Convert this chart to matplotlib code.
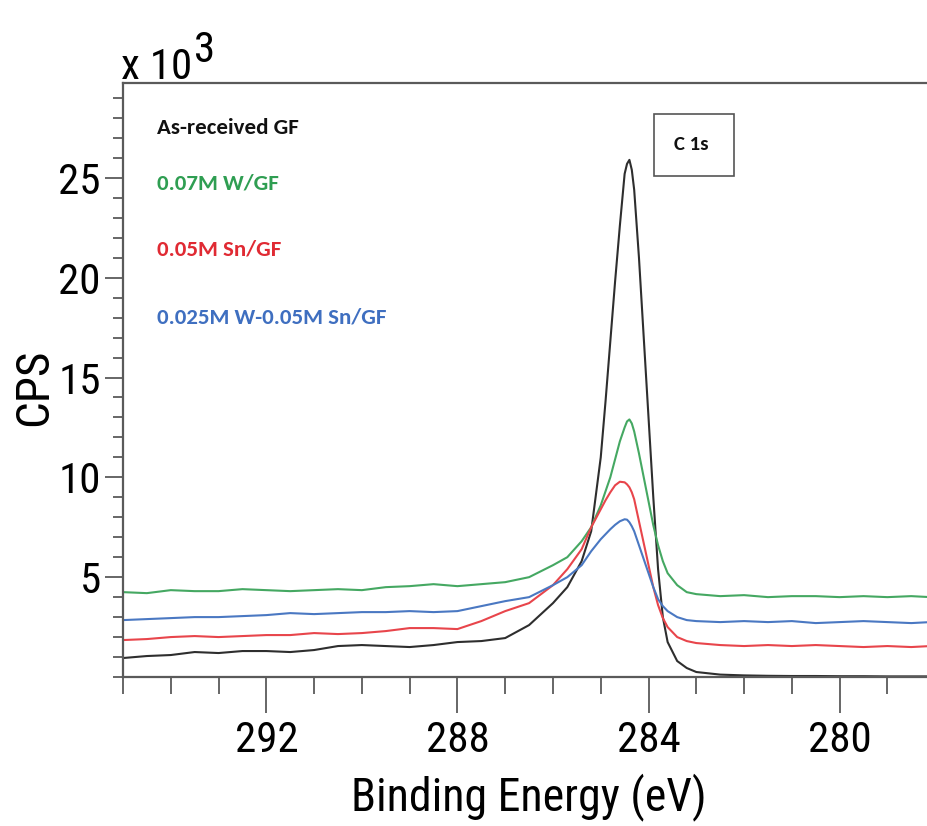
import matplotlib
matplotlib.use("Agg")
import matplotlib.pyplot as plt
from matplotlib import font_manager
from matplotlib.ticker import MultipleLocator, FixedLocator
from matplotlib.patches import Rectangle

# ---------------- data (CPS in units of 10^3) ----------------
energy_ev = [295.0, 294.5, 294.0, 293.5, 293.0, 292.5, 292.0, 291.5, 291.0, 290.5,
             290.0, 289.5, 289.0, 288.5, 288.0, 287.5, 287.0, 286.5, 286.0, 285.7,
             285.4, 285.2,
             285.0, 284.9, 284.8, 284.7, 284.6, 284.5, 284.45, 284.4, 284.35, 284.3,
             284.2, 284.1, 284.0, 283.9, 283.8, 283.7, 283.6,
             283.4, 283.2, 283.0,
             282.5, 282.0, 281.5, 281.0, 280.5, 280.0, 279.5, 279.0, 278.5, 278.1]

as_received_gf = [0.95, 1.05, 1.10, 1.25, 1.20, 1.30, 1.30, 1.25, 1.35, 1.55,
                  1.60, 1.55, 1.50, 1.60, 1.75, 1.80, 1.95, 2.60, 3.70, 4.50,
                  5.80, 7.30,
                  11.0, 13.8, 16.8, 19.8, 22.6, 25.2, 25.7, 25.9, 25.4, 24.4,
                  21.0, 17.0, 13.0, 9.00, 5.40, 3.00, 1.75,
                  0.80, 0.45, 0.25,
                  0.12, 0.08, 0.06, 0.05, 0.05, 0.04, 0.04, 0.03, 0.03, 0.03]

w_gf = [4.25, 4.20, 4.35, 4.30, 4.30, 4.40, 4.35, 4.30, 4.35, 4.40,
        4.35, 4.50, 4.55, 4.65, 4.55, 4.65, 4.75, 5.00, 5.60, 6.00,
        6.80, 7.50,
        8.60, 9.30, 10.0, 10.9, 11.8, 12.5, 12.8, 12.9, 12.7, 12.3,
        11.2, 10.0, 8.80, 7.60, 6.60, 5.80, 5.20,
        4.60, 4.25, 4.15,
        4.05, 4.10, 4.00, 4.05, 4.05, 4.00, 4.05, 4.00, 4.05, 4.00]

sn_gf = [1.85, 1.90, 2.00, 2.05, 2.00, 2.05, 2.10, 2.10, 2.20, 2.15,
         2.20, 2.30, 2.45, 2.45, 2.40, 2.80, 3.30, 3.70, 4.60, 5.40,
         6.40, 7.50,
         8.40, 8.85, 9.25, 9.60, 9.78, 9.75, 9.65, 9.50, 9.25, 8.90,
         7.80, 6.70, 5.60, 4.50, 3.60, 2.95, 2.50,
         2.00, 1.80, 1.70,
         1.60, 1.55, 1.60, 1.55, 1.60, 1.55, 1.50, 1.55, 1.50, 1.55]

w_sn_gf = [2.85, 2.90, 2.95, 3.00, 3.00, 3.05, 3.10, 3.20, 3.15, 3.20,
           3.25, 3.25, 3.30, 3.25, 3.30, 3.55, 3.80, 4.00, 4.60, 5.00,
           5.60, 6.30,
           6.90, 7.15, 7.40, 7.62, 7.80, 7.90, 7.88, 7.75, 7.55, 7.30,
           6.60, 5.90, 5.20, 4.50, 3.90, 3.55, 3.30,
           3.00, 2.85, 2.80,
           2.75, 2.80, 2.75, 2.80, 2.70, 2.75, 2.80, 2.75, 2.70, 2.75]

series_labels = ["As-received GF", "0.07M W/GF", "0.05M Sn/GF", "0.025M W-0.05M Sn/GF"]
x_major_ticks = [292, 288, 284, 280]
y_major_ticks = [5, 10, 15, 20, 25]

# ---------------- style ----------------
names = {f.name for f in font_manager.fontManager.ttflist}


def pick(cands, default):
    for c in cands:
        if c in names:
            return c
    return default


narrow = pick(["Liberation Sans Narrow", "Arial Narrow", "Arimo Narrow", "Roboto Condensed",
               "Archivo Narrow", "PT Sans Narrow", "Barlow Semi Condensed"], "Liberation Sans")
label_font = pick(["Carlito", "Calibri", "Lato"], "DejaVu Sans")

line_colors = ["#2e2e2e", "#45a862", "#e8454b", "#4a78c2"]
text_colors = ["#111111", "#2f9e52", "#e02a33", "#3f6fc0"]
spine_col = "#5a5a5a"

W, H = 928, 826
fig = plt.figure(figsize=(W / 100, H / 100), dpi=100)
ax = fig.add_axes([123 / W, 1 - 677 / H, (W - 123) / W, (677 - 83) / H])

for y, c in zip([as_received_gf, w_gf, sn_gf, w_sn_gf], line_colors):
    ax.plot(energy_ev, y, color=c, lw=1.5, solid_joinstyle="round")

ax.set_xlim(295, 278.15)
ax.set_ylim(0, 29.75)

ax.xaxis.set_major_locator(FixedLocator(x_major_ticks))
ax.xaxis.set_minor_locator(MultipleLocator(1))
ax.yaxis.set_major_locator(FixedLocator(y_major_ticks))
ax.yaxis.set_minor_locator(MultipleLocator(1))

ax.tick_params(axis="x", which="major", direction="out", length=26, width=1.3,
               color=spine_col, pad=5, labelsize=31)
ax.tick_params(axis="x", which="minor", direction="out", length=12, width=1.3, color=spine_col)
ax.tick_params(axis="y", which="major", direction="out", length=13, width=1.3,
               color=spine_col, pad=3, labelsize=31)
ax.tick_params(axis="y", which="minor", direction="out", length=7, width=1.3, color=spine_col)
for lab in ax.get_xticklabels() + ax.get_yticklabels():
    lab.set_fontfamily(narrow)

for s in ["left", "bottom", "top"]:
    ax.spines[s].set_color(spine_col)
    ax.spines[s].set_linewidth(1.6)
ax.spines["right"].set_visible(False)

ax.set_xlabel("Binding Energy (eV)", fontsize=33, family=narrow)
ax.xaxis.label.set_va("center")
ax.xaxis.set_label_coords((529 - 123) / 805, (677 - 797) / 594)
ax.set_ylabel("CPS", fontsize=34, family=narrow)
ax.yaxis.label.set_va("center")
ax.yaxis.set_label_coords((34 - 123) / 805, (677 - 387) / 594)

# multiplier text
fig.text(121 / W, 1 - 79 / H, "x 10", fontsize=31, family=narrow, va="baseline", ha="left")
fig.text(194 / W, 1 - 62 / H, "3", fontsize=31, family=narrow, va="baseline", ha="left")

# series labels
label_y = [128, 183, 250, 318]
for t, c, yy in zip(series_labels, text_colors, label_y):
    fig.text(157 / W, 1 - yy / H, t, fontsize=16.5, family=label_font, weight="bold",
             color=c, va="center", ha="left")

# C 1s box
fig.patches.append(Rectangle((654 / W, 1 - 176 / H), 80 / W, 62 / H,
                             transform=fig.transFigure, fill=False,
                             edgecolor="#555555", lw=1.2))
fig.text(691 / W, 1 - 145 / H, "C 1s", fontsize=15, family=label_font, weight="bold",
         va="center", ha="center", color="#111111")

fig.savefig("out.png", dpi=100)
